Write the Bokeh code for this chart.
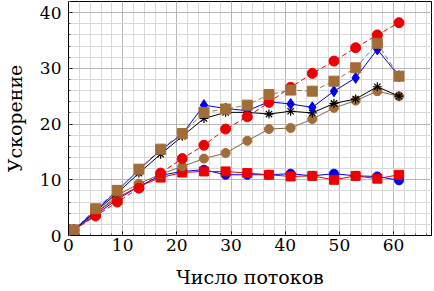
from bokeh.plotting import figure
from bokeh.embed import file_html
from bokeh.resources import INLINE
from bokeh.models import Range1d, FixedTicker

threads = [1, 5, 9, 13, 17, 21, 25, 29, 33, 37, 41, 45, 49, 53, 57, 61]

blue_circle = [1, 3.7, 6.5, 8.8, 10.8, 11.5, 11.8, 10.9, 10.9, 10.9, 11.1, 10.7, 11.1, 10.7, 10.6, 9.9]
red_square = [1, 4.0, 6.8, 8.8, 10.4, 11.3, 11.5, 11.5, 11.2, 10.9, 10.6, 10.7, 10.0, 10.7, 10.2, 10.9]
brown_circle = [1, 4.0, 7.2, 9.3, 11.0, 12.4, 13.8, 14.8, 17.0, 19.1, 19.3, 20.9, 22.9, 24.2, 25.9, 25.0]
black_star = [1, 4.3, 7.6, 11.2, 14.6, 17.8, 21.0, 22.1, 22.1, 21.8, 22.3, 22.0, 23.7, 24.5, 26.7, 25.0]
blue_diamond = [1, 4.5, 8.0, 11.8, 15.3, 18.2, 23.4, 22.8, 22.4, 24.0, 23.6, 23.0, 25.9, 28.3, 33.4, 28.6]
red_circle = [1, 3.5, 6.0, 8.5, 11.2, 13.8, 16.2, 19.1, 21.3, 23.9, 26.6, 29.1, 31.3, 33.7, 36.0, 38.2]
brown_square = [1, 4.8, 8.1, 11.9, 15.5, 18.3, 22.1, 22.7, 23.4, 25.3, 26.1, 25.9, 27.7, 30.1, 34.5, 28.6]

x_ticks = [0, 10, 20, 30, 40, 50, 60]
y_ticks = [0, 10, 20, 30, 40]

BLUE = "#0000ee"
RED = "#ee0000"
BROWN = "#a36d38"
BLACK = "#000000"
FONT = "DejaVu Serif"

p = figure(width=432, height=290, output_backend="svg", toolbar_location=None,
           x_range=Range1d(0, 67), y_range=Range1d(0, 42),
           min_border_left=65, min_border_right=1, min_border_top=1, min_border_bottom=55)

p.xaxis.ticker = FixedTicker(ticks=x_ticks, minor_ticks=list(range(0, 68, 2)))
p.yaxis.ticker = FixedTicker(ticks=y_ticks, minor_ticks=list(range(0, 43, 2)))

for ax in (p.xaxis, p.yaxis):
    ax.axis_line_color = "black"
    ax.major_tick_in = 4
    ax.major_tick_out = 0
    ax.minor_tick_in = 2
    ax.minor_tick_out = 0
    ax.major_tick_line_color = "black"
    ax.minor_tick_line_color = "#555555"
    ax.major_label_text_font = FONT
    ax.major_label_text_font_size = "17px"
    ax.major_label_text_color = "black"
    ax.axis_label_text_font = FONT
    ax.axis_label_text_font_size = "19px"
    ax.axis_label_text_font_style = "normal"
    ax.axis_label_text_color = "black"

p.xaxis.axis_label = "Число потоков"
p.yaxis.axis_label = "Ускорение"
p.xaxis.major_label_standoff = 3
p.yaxis.major_label_standoff = 7
p.xaxis.axis_label_standoff = 12
p.yaxis.axis_label_standoff = 11

p.grid.grid_line_color = "#b8b8b8"
p.grid.grid_line_width = 1
p.grid.minor_grid_line_color = "#d8d8d8"
p.grid.minor_grid_line_width = 1
p.outline_line_color = "black"
p.outline_line_width = 1
p.background_fill_color = "white"
p.border_fill_color = "white"

def series(y, color, marker, size, dash="solid", line_color=None):
    lc = line_color or color
    p.line(threads, y, line_color=lc, line_width=1, line_dash=dash)
    if marker == "asterisk":
        p.scatter(threads, y, marker="asterisk", size=size, line_color=color, line_width=1.2)
    else:
        p.scatter(threads, y, marker=marker, size=size, fill_color=color, line_color=color)

series(blue_circle, BLUE, "circle", 9)
series(red_square, RED, "square", 9)
series(brown_circle, BROWN, "circle", 9, line_color="#7a6a55")
series(black_star, BLACK, "asterisk", 9)
series(blue_diamond, BLUE, "diamond", 11)
series(red_circle, RED, "circle", 10, dash="5 3")
series(brown_square, BROWN, "square", 10, dash="5 3", line_color="#8a7a65")

open("out.html", "w").write(file_html(p, INLINE))
